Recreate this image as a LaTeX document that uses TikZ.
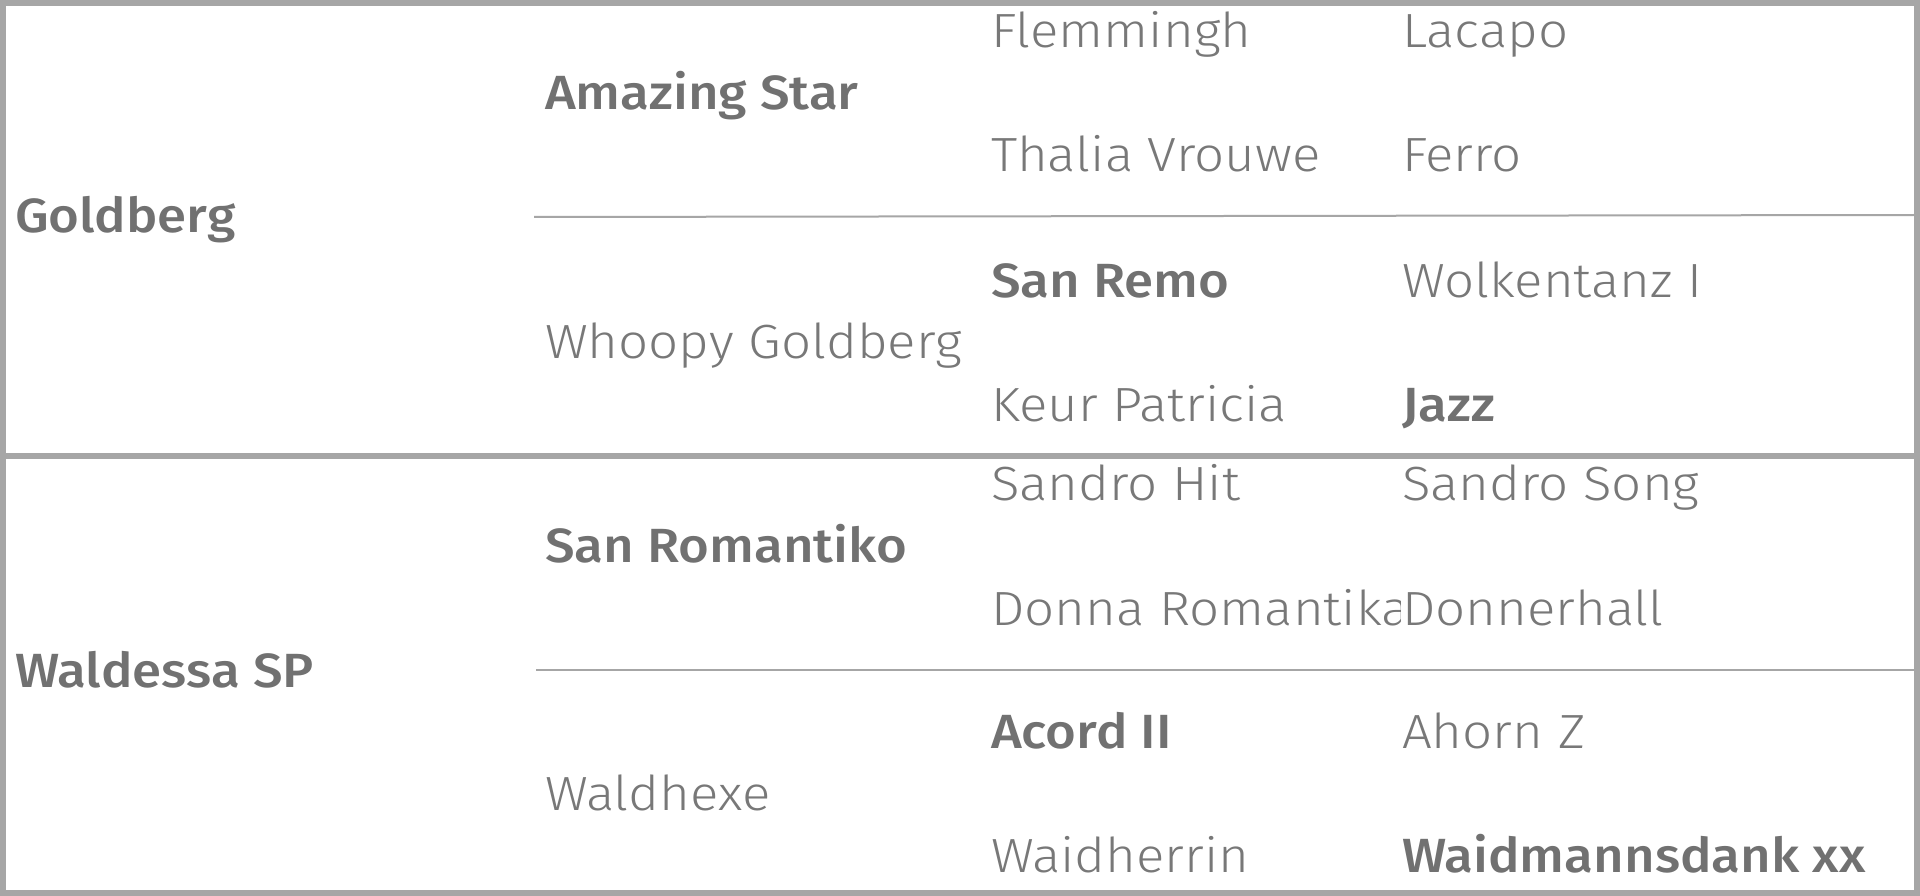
\documentclass[tikz,border=0pt]{standalone}
\usepackage{fontspec}
\setmainfont{Fira Sans Light}[BoldFont={Fira Sans Medium},FakeStretch=1.1]
\definecolor{framegray}{HTML}{A6A6A6}
\definecolor{textgray}{HTML}{787878}
\definecolor{boldgray}{HTML}{717171}
\begin{document}
\begin{tikzpicture}[x=1pt,y=-1pt,
  lbl/.style={anchor=base west,inner sep=0pt,outer sep=0pt,text=textgray,font=\fontsize{48}{52}\selectfont},
  blbl/.style={lbl,text=boldgray,font=\fontsize{48}{52}\selectfont\bfseries},
  frame/.style={draw=framegray,line width=6pt},
  thin/.style={draw=framegray,line width=2pt}]
\useasboundingbox (0,0) rectangle (1920,896);
\fill[white] (0,0) rectangle (1920,896);
% columns: 15, 545, 991, 1402
\node[blbl] (goldberg) at (15,233) {Goldberg};
\node[blbl] (amazing) at (545,110) {Amazing Star};
\node[lbl] (whoopy) at (545,358) {Whoopy Goldberg};
\node[lbl] (flemmingh) at (991,48) {Flemmingh};
\node[lbl] (lacapo) at (1402,48) {Lacapo};
\node[lbl] (thalia) at (991,172) {Thalia Vrouwe};
\node[lbl] (ferro) at (1402,172) {Ferro};
\node[blbl] (sanremo) at (991,297) {San Remo};
\node[lbl] (wolken) at (1402,297) {Wolkentanz I};
\node[lbl] (keur) at (991,421) {Keur Patricia};
\node[blbl] (jazz) at (1402,421) {Jazz};
\node[blbl] (waldessa) at (15,687) {Waldessa SP};
\node[blbl] (sanrom) at (545,562) {San Romantiko};
\node[lbl] (waldhexe) at (545,810) {Waldhexe};
\node[lbl] (sandrohit) at (991,500) {Sandro Hit};
\node[lbl] (sandrosong) at (1402,500) {Sandro Song};
\begin{scope}
\clip (980,560) rectangle (1400,650);
\node[lbl] (donna) at (991,625) {Donna Romantika};
\end{scope}
\node[lbl] (donner) at (1402,625) {Donnerhall};
\node[blbl] (acord) at (991,748) {Acord II};
\node[lbl] (ahorn) at (1402,748) {Ahorn Z};
\node[lbl] (waidherrin) at (991,872) {Waidherrin};
\node[blbl] (waidmann) at (1402,872) {Waidmannsdank xx};
% lines
\coordinate (t1) at (534,217);
\coordinate (t2) at (1914,215);
\coordinate (b1) at (536,670);
\coordinate (b2) at (1914,670);
\draw[thin] (t1) -- (t2);
\draw[thin] (b1) -- (b2);
\coordinate (m1) at (0,455.5);
\coordinate (m2) at (1920,455.5);
\draw[frame] (m1) -- (m2);
\draw[frame] (3,3) rectangle (1917,893);
\end{tikzpicture}
\end{document}
